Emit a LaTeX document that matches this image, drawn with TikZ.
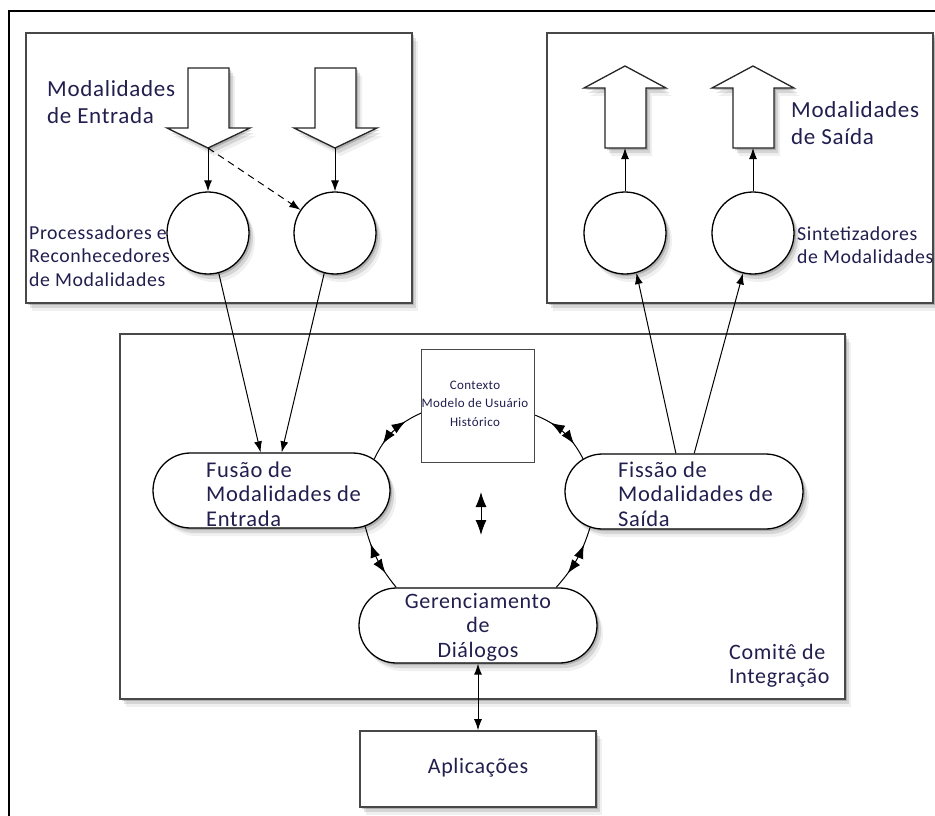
\documentclass[tikz,border=0pt]{standalone}
\usepackage{fontspec}
\setmainfont{Carlito}[LetterSpace=3]
\usetikzlibrary{arrows.meta,shapes.misc,shadows,calc,decorations.markings}
\definecolor{ink}{RGB}{34,30,78}
\definecolor{edge}{RGB}{72,72,72}

\tikzset{
  soft/.style={
    drop shadow={shadow xshift=2pt,shadow yshift=-2pt,opacity=.18,fill=black},
    drop shadow={shadow xshift=4pt,shadow yshift=-5pt,opacity=.11,fill=black},
    drop shadow={shadow xshift=6pt,shadow yshift=-8pt,opacity=.06,fill=black}},
  panel/.style={draw=edge,line width=1.6pt,fill=white,soft,inner sep=0pt,
    anchor=north west},
  ctxbox/.style={draw=edge,line width=1.2pt,fill=white,inner sep=0pt,
    minimum width=113pt,minimum height=113pt,anchor=north west},
  unit/.style={circle,draw=black,line width=1.3pt,fill=white,soft,
    minimum size=82pt,inner sep=0pt},
  pill/.style={rounded rectangle,draw=black,line width=1.3pt,fill=white,soft,
    minimum width=237pt,minimum height=75pt,inner sep=0pt},
  blockarrow/.style={draw=black!85,line width=1.3pt,fill=white,line join=miter,soft},
  % multi-line labels sit on the baseline of their last line
  lbl/.style={text=ink,inner sep=0pt,align=left,anchor=base west},
  tip/.style={-{Latex[length=11pt,width=8pt]},line width=1pt},
  both/.style={{Latex[length=11pt,width=8pt]}-{Latex[length=11pt,width=8pt]},line width=1pt},
  % two heads back to back in the middle of the link
  dbl/.style={line width=1pt,decoration={markings,
      mark=at position 0.26 with {\arrowreversed{Latex[length=14pt,width=10pt]}},
      mark=at position 0.74 with {\arrow{Latex[length=14pt,width=10pt]}}},
    postaction={decorate}}
}

\begin{document}
\begin{tikzpicture}[x=1pt,y=-1pt]
\useasboundingbox (0,0) rectangle (935,816);
\fill[white] (0,0) rectangle (935,816);

% outer frame, running off the right and bottom edges
\draw[line width=2.2pt] (945,11) -- (9,11) -- (9,826);

% the three panels
\node[panel,minimum width=386pt,minimum height=270pt] (inbox) at (25,32) {};
\node[panel,minimum width=386pt,minimum height=270pt] (outbox) at (546,32) {};
\node[panel,minimum width=725pt,minimum height=365pt] (comite) at (119,333) {};

% input side
\draw[blockarrow] (188,68) -- (229,68) -- (229,128) -- (250,128) -- (208,148)
  -- (167,128) -- (188,128) -- cycle;
\draw[blockarrow] (315,68) -- (356,68) -- (356,128) -- (377,128) -- (335,148)
  -- (294,128) -- (315,128) -- cycle;
\coordinate (da1) at (208,148);
\coordinate (da2) at (335,148);

\node[lbl,font=\fontsize{23}{27}\selectfont] (inlbl) at (47,123) {Modalidades\\de Entrada};
\node[lbl,font=\fontsize{19.8}{23.5}\selectfont] (proc) at (29,286) {Processadores e\\Reconhecedores\\de Modalidades};

\node[unit] (p1) at (208,233) {};
\node[unit] (p2) at (335,233) {};

\draw[tip] (da1) -- (p1.north);
\draw[tip] (da2) -- (p2.north);
\draw[tip,dashed,dash pattern=on 7pt off 5pt] (da1) -- (p2);

% output side
\draw[blockarrow] (625,66) -- (666,88) -- (646,88) -- (646,148) -- (605,148)
  -- (605,88) -- (584,88) -- cycle;
\draw[blockarrow] (753,66) -- (794,88) -- (774,88) -- (774,148) -- (733,148)
  -- (733,88) -- (712,88) -- cycle;
\coordinate (ua1) at (625,148);
\coordinate (ua2) at (753,148);

\node[lbl,font=\fontsize{23}{27}\selectfont] (outlbl) at (791,144) {Modalidades\\de Saída};

\node[unit] (s1) at (625,233) {};
\node[unit] (s2) at (753,233) {};
\node[lbl,font=\fontsize{19.8}{22.5}\selectfont] (sint) at (797,263) {Sintetizadores\\de Modalidades};

\draw[tip] (s1.north) -- (ua1);
\draw[tip] (s2.north) -- (ua2);

% integration committee
\node[ctxbox] (ctx) at (421,349) {};
\node[text=ink,align=center,anchor=base,inner sep=0pt,font=\fontsize{13}{18.5}\selectfont] (ctxtxt) at (475,426)
  {Contexto\\Modelo de Usuário\\Histórico};

\node[pill] (fus) at (271.5,490.5) {};
\node[pill,minimum width=238pt] (fis) at (684,491.5) {};
\node[pill,minimum width=238pt] (ger) at (478,625.5) {};

\node[lbl,font=\fontsize{22.5}{24.5}\selectfont] (fustxt) at (206,526) {Fusão de\\Modalidades de\\Entrada};
\node[lbl,font=\fontsize{22.5}{24.5}\selectfont] (fistxt) at (618,526) {Fissão de\\Modalidades de\\Saída};
\node[lbl,font=\fontsize{22}{24.5}\selectfont,align=center,anchor=base] (gertxt) at (478,657)
  {Gerenciamento\\de\\Diálogos};

\node[lbl,font=\fontsize{22}{24}\selectfont] (comlbl) at (729,683) {Comitê de\\Integração};

% recognisers feed the fusion, fission feeds the synthesisers
\draw[tip] (p1.-75) -- (fus.106);
\draw[tip] (p2.-105) -- (fus.75);
\draw[tip] (fis.102) -- (s1.-74);
\draw[tip] (fis.75) -- (s2.-104);

% exchanges around the context store
\draw[dbl] (fus.17) to[bend left=20] (ctx.187);
\draw[dbl] (fis.162) to[bend right=20] (ctx.-9);
\draw[dbl] (fus.-21) to[bend right=12] (ger.155);
\draw[dbl] (fis.-159) to[bend left=12] (ger.26);

\coordinate (vtop) at (481,492);
\coordinate (vbot) at (481,535);
\draw[{Latex[length=15pt,width=11pt]}-{Latex[length=15pt,width=11pt]},line width=1pt] (vtop) -- (vbot);

% applications
\node[panel,minimum width=236pt,minimum height=76pt,anchor=center] (apl) at (478,769) {};
\node[lbl,font=\fontsize{22}{24}\selectfont,anchor=base] (apltxt) at (478,773) {Aplicações};
\draw[both] (ger.south) -- (apl.north);
\end{tikzpicture}
\end{document}
